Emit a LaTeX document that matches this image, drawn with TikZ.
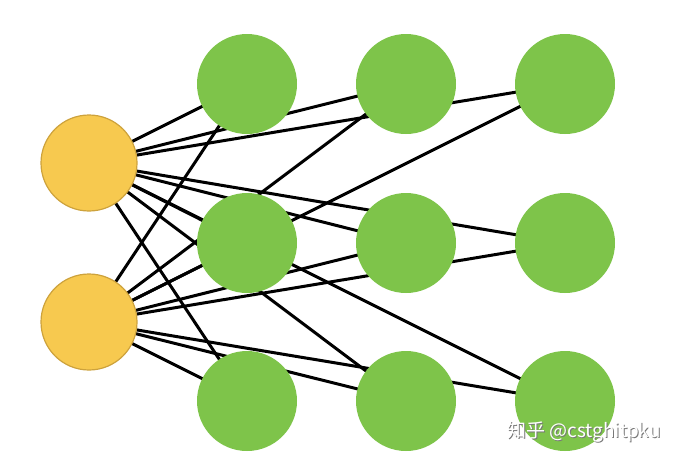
\documentclass[tikz,border=0pt]{standalone}
\usepackage{fontspec}
\newfontfamily\cjkfont{Noto Sans CJK SC}
\usetikzlibrary{backgrounds}
\definecolor{inyellow}{RGB}{247,201,79}
\definecolor{inborder}{RGB}{205,162,60}
\definecolor{hidgreen}{RGB}{126,196,74}
\definecolor{markgray}{RGB}{120,120,120}

\begin{document}
\begin{tikzpicture}[x=1pt,y=-1pt,
		inp/.style={circle,fill=inyellow,draw=inborder,line width=1.2pt,minimum size=96pt,inner sep=0pt},
		hid/.style={circle,fill=hidgreen,minimum size=100pt,inner sep=0pt},
		link/.style={line width=3pt,black},
		wmark/.style={anchor=west,inner sep=0pt,font=\cjkfont\fontsize{19}{19}\selectfont}]
			\useasboundingbox (0,0) rectangle (692,464);
			\node[inp] (in1) at (89,163) {};
			\node[inp] (in2) at (89,322) {};
			\foreach \c/\x in {1/247,2/406,3/565}
				\foreach \r/\y in {1/84,2/243,3/401}
					\node[hid] (h\c\r) at (\x,\y) {};
			
			\begin{scope}[on background layer]
				\foreach \i in {1,2}
					\foreach \c in {1,2,3}
						\foreach \r in {1,2,3}
							\draw[link] (in\i.center) to (h\c\r.center);
			\end{scope}
			
			\node[wmark,text=markgray] (markshadow) at (508,433) {知乎 @cstghitpku};
			\node[wmark,text=white] (markname) at (507,432) {知乎 @cstghitpku};
		\end{tikzpicture}
\end{document}
